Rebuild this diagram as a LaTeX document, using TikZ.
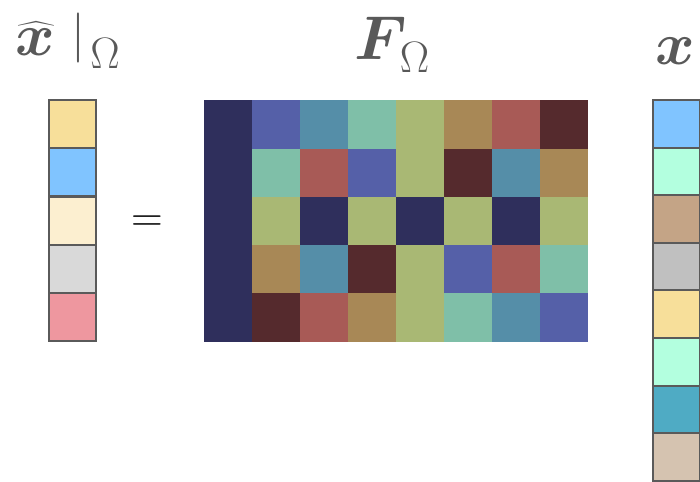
\RequirePackage{fix-cm}
\documentclass[tikz,border=0pt]{standalone}
\usepackage{amsmath}
\usepackage{exscale}
\usepackage{bm}
\newcommand{\bigOmega}{\raisebox{-3pt}{\fontsize{44}{44}\selectfont$\Omega$}}
\begin{document}
\begin{tikzpicture}[x=1pt,y=-1pt,
  vcell/.style={draw=edgegray,line width=2pt,minimum width=47pt,minimum height=48pt,inner sep=0pt,outer sep=0pt},
  mcell/.style={minimum width=48.2pt,minimum height=48.4pt,inner sep=0pt,outer sep=0pt},
  lbl/.style={text=labelgray,inner sep=0pt},
]
\definecolor{edgegray}{HTML}{5A5A5A}
\definecolor{labelgray}{HTML}{595959}
\definecolor{cN}{HTML}{2F2F5C}
\definecolor{cP}{HTML}{5560A8}
\definecolor{cT}{HTML}{558EA8}
\definecolor{cM}{HTML}{7FBFA8}
\definecolor{cO}{HTML}{A9B874}
\definecolor{cB}{HTML}{A88856}
\definecolor{cR}{HTML}{A85A56}
\definecolor{cD}{HTML}{552A2D}
\definecolor{vY}{HTML}{F7DF9A}
\definecolor{vL}{HTML}{80C4FF}
\definecolor{vC}{HTML}{FCEFD0}
\definecolor{vG}{HTML}{D9D9D9}
\definecolor{vK}{HTML}{EE979F}
\definecolor{wM}{HTML}{B3FFDF}
\definecolor{wT}{HTML}{C4A486}
\definecolor{wG}{HTML}{C0C0C0}
\definecolor{wB}{HTML}{4FABC4}
\definecolor{wS}{HTML}{D5C3B0}
\useasboundingbox (0,0) rectangle (700,481);
\fill[white] (0,0) rectangle (700,481);

% labels
\node[lbl,anchor=base west] (lxhat) at (15,56) {\fontsize{60}{60}\selectfont $\widehat{\bm{x}}\;\raisebox{5pt}{\fontsize{50}{50}\selectfont$\vert$}_{\hspace{5pt}\bigOmega}$};
\node[lbl,anchor=base west] (lF) at (354,60) {\fontsize{62}{62}\selectfont $\bm{F}_{\hspace{3pt}\bigOmega}$};
\node[lbl,anchor=base] (lx) at (675,65) {\fontsize{60}{60}\selectfont $\bm{x}$};

% left vector
\foreach \c [count=\i] in {vY,vL,vC,vG,vK}{
  \node[vcell,fill=\c] (a\i) at (72.5,{100+48.2*(\i-0.5)}) {};
}

% equals sign
\node[inner sep=0pt] (eq) at (147,224) {\fontsize{44}{44}\selectfont $=$};

% matrix
\foreach \row [count=\r] in {
  {cN,cP,cT,cM,cO,cB,cR,cD},
  {cN,cM,cR,cP,cO,cD,cT,cB},
  {cN,cO,cN,cO,cN,cO,cN,cO},
  {cN,cB,cT,cD,cO,cP,cR,cM},
  {cN,cD,cR,cB,cO,cM,cT,cP}}{
  \foreach \c [count=\k] in \row {
    \node[mcell,fill=\c] (m\r\k) at ({204+48*(\k-0.5)},{100.5+48.2*(\r-0.5)}) {};
  }
}

% right vector
\foreach \c [count=\i] in {vL,wM,wT,wG,vY,wM,wB,wS}{
  \node[vcell,minimum height=47.6pt,fill=\c] (b\i) at (676,{100+47.6*(\i-0.5)}) {};
}
\end{tikzpicture}
\end{document}
